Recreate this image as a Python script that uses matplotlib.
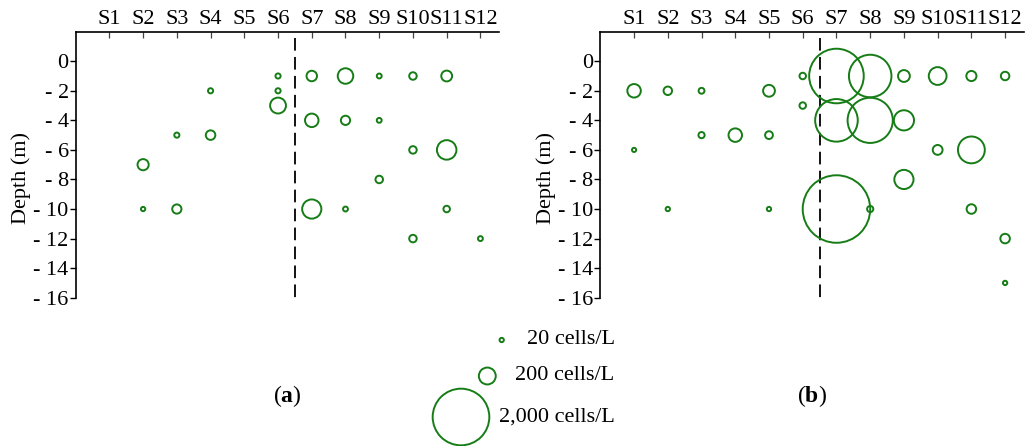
import matplotlib.pyplot as plt
import numpy as np

plt.rcParams['font.family'] = ['Liberation Serif', 'DejaVu Serif']
plt.rcParams['mathtext.fontset'] = 'custom'
plt.rcParams['mathtext.rm'] = 'Liberation Serif'
plt.rcParams['mathtext.bf'] = 'Liberation Serif:bold'

stations = ['S1', 'S2', 'S3', 'S4', 'S5', 'S6', 'S7', 'S8', 'S9', 'S10', 'S11', 'S12']
depth_ticks = [0, -2, -4, -6, -8, -10, -12, -14, -16]
depth_labels = ['0'] + ['- %d' % -d for d in depth_ticks[1:]]

# panel (a): station index, depth (m), abundance (cells/L)
a_st = [4, 3, 4, 2, 2, 3, 6, 6, 6, 7, 7, 7, 8, 8, 8, 9, 9, 9, 10, 10, 10, 11, 11, 11, 12]
a_dep = [-2, -5, -5, -7, -10, -10, -1, -2, -3, -1, -4, -10, -1, -4, -10, -1, -4, -8, -1, -6, -12, -1, -6, -10, -12]
a_val = [26, 26, 72, 95, 20, 68, 26, 26, 178, 85, 133, 253, 171, 68, 24, 24, 24, 48, 48, 48, 48, 90, 261, 38, 24]

# panel (b)
b_st = [1, 1, 2, 2, 3, 3, 4, 5, 5, 5, 6, 6, 7, 7, 7, 8, 8, 8, 9, 9, 9, 10, 10, 11, 11, 11, 12, 12, 12]
b_dep = [-2, -6, -2, -10, -2, -5, -5, -2, -5, -10, -1, -3, -1, -4, -10, -1, -4, -10, -1, -4, -8, -1, -6, -1, -6, -10, -1, -12, -15]
b_val = [133, 19, 59, 20, 32, 35, 133, 105, 51, 20, 38, 38, 1860, 1150, 2817, 1146, 1290, 35, 105, 278, 253, 220, 76, 80, 475, 72, 59, 72, 20]

legend_vals = [20, 200, 2000]
legend_text = ['20 cells/L', '200 cells/L', '2,000 cells/L']
panel_names = ['a', 'b']

green = '#167c16'
fs = 16


def size(v):
    # circle area proportional to abundance
    d = 1.3 * np.sqrt(np.asarray(v, dtype=float)) - 1.5
    return (d * 72 / 100.0) ** 2


fig = plt.figure(figsize=(10.25, 4.46), dpi=100)

panels = [(0.0738, a_st, a_dep, a_val), (0.5857, b_st, b_dep, b_val)]
for (left, st, dep, val), name in zip(panels, panel_names):
    ax = fig.add_axes([left, 0.3325, 0.413, 0.5965])
    ax.scatter(st, dep, s=size(val), facecolors='none', edgecolors=green,
               linewidths=1.4, clip_on=False, zorder=3)
    ax.plot([6.5, 6.5], [1.6, -16.2], color='black', lw=1.3,
            linestyle=(0, (7, 3.5)), clip_on=False, zorder=2)
    ax.set_xlim(0, 12.55)
    ax.set_ylim(-16, 2)
    ax.set_xticks(range(1, 13))
    ax.set_xticklabels(stations, fontsize=fs)
    ax.set_yticks(depth_ticks)
    ax.set_yticklabels(depth_labels, fontsize=fs)
    ax.xaxis.tick_top()
    ax.tick_params(axis='x', direction='in', length=4, width=0.9, pad=2, colors='#444444',
                   labelcolor='black')
    ax.tick_params(axis='y', direction='out', length=4, width=1, pad=1)
    ax.spines['bottom'].set_visible(False)
    ax.spines['right'].set_visible(False)
    ax.spines['top'].set_linewidth(1.2)
    ax.spines['left'].set_linewidth(1.2)
    ax.set_ylabel('Depth (m)', fontsize=16)
    ax.yaxis.set_label_coords(-0.105, 0.45)
    ax.text(0.5, -0.37, r'($\mathbf{%s}$)' % name, transform=ax.transAxes,
            fontsize=17, ha='center', va='center')

# legend
lax = fig.add_axes([0, 0, 1, 1])
lax.set_xlim(0, 1025)
lax.set_ylim(446, 0)
lax.axis('off')
leg_x = [501.7, 487.3, 461.0]
leg_y = [340, 376, 417]
text_x = [526.7, 515, 499.3]
lax.scatter(leg_x, leg_y, s=size(legend_vals), facecolors='none', edgecolors=green,
            linewidths=1.4, clip_on=False)
for tx, ty, t in zip(text_x, leg_y, legend_text):
    lax.text(tx, ty, t, fontsize=fs, ha='left', va='center')

fig.savefig('out.png', dpi=100)
